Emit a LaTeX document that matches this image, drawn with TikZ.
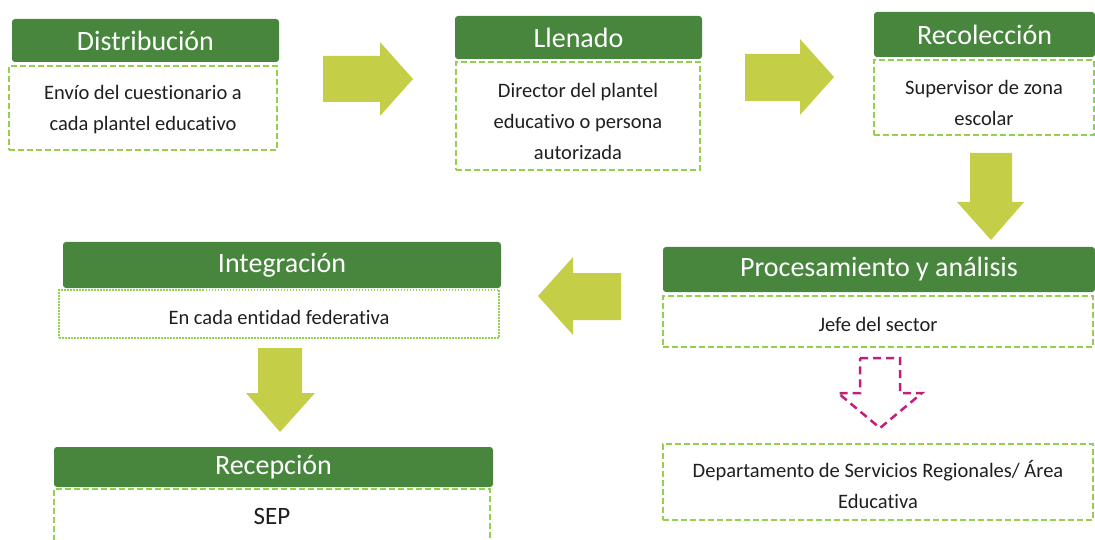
\documentclass[tikz,border=0pt]{standalone}
\usepackage{fontspec}
\setmainfont{Carlito}[Ligatures={NoCommon,NoRare}]
\usepackage{tikz}
\definecolor{hdrgreen}{RGB}{72,134,62}
\definecolor{arrowlime}{RGB}{196,206,70}
\definecolor{dashgreen}{RGB}{146,208,80}
\definecolor{pinkarrow}{RGB}{192,32,124}
\newcommand{\lift}[1]{\rule{0pt}{#1}}

\begin{document}
\begin{tikzpicture}[x=1pt, y=-1pt,
    every node/.style={inner sep=0pt, outer sep=0pt, align=center},
    header/.style={rectangle, rounded corners=3pt, fill=hdrgreen, text=white, font=\fontsize{28}{30}\selectfont},
    bodybox/.style={rectangle, draw=dashgreen, line width=1.5pt, dash pattern=on 6pt off 3pt, fill=white, text=black!88, font=\fontsize{20.5}{31}\selectfont},
    dotbox/.style={bodybox, dash pattern=on 1.5pt off 1.5pt},
    greenarrow/.style={fill=arrowlime},
    pinkdash/.style={draw=pinkarrow, line width=2.5pt, dash pattern=on 8pt off 5pt}]
    \useasboundingbox (0,0) rectangle (1095,540);
    \clip (0,0) rectangle (1095,540);
    % Top row
    \node[header, minimum width=267pt, minimum height=43pt] (hdist) at (145.5,40.5) {Distribución};
    \node[bodybox, minimum width=268pt, minimum height=84pt] (bdist) at (143,108) {\lift{17pt}Envío del cuestionario a\\cada plantel educativo};
    \node[header, minimum width=247pt, minimum height=43pt] (hllen) at (578.5,37.5) {Llenado};
    \node[bodybox, minimum width=244pt, minimum height=108pt] (bllen) at (578,116) {\lift{25pt}Director del plantel\\educativo o persona\\autorizada};
    \node[header, minimum width=221pt, minimum height=45pt] (hreco) at (984.5,34.5) {Recolección};
    \node[bodybox, minimum width=220pt, minimum height=75pt] (breco) at (984,97.5) {\lift{25pt}Supervisor de zona\\escolar};
    % Middle row
    \node[header, minimum width=432pt, minimum height=45pt] (hproc) at (879,269.5) {Procesamiento y análisis};
    \node[bodybox, minimum width=430pt, minimum height=51pt] (bproc) at (878,321.5) {\lift{20pt}Jefe del sector};
    \node[header, minimum width=438pt, minimum height=46pt] (hinte) at (282,265) {Integración};
    \node[dotbox, minimum width=440pt, minimum height=48pt] (binte) at (279,314) {\lift{22pt}En cada entidad federativa};
    % Bottom row
    \node[header, minimum width=439pt, minimum height=40pt] (hrece) at (273.5,467) {Recepción};
    \node[bodybox, minimum width=436pt, minimum height=54pt, font=\fontsize{25}{30}\selectfont] (brece) at (272,516) {SEP};
    \node[bodybox, minimum width=430pt, minimum height=76pt] (bdept) at (878,482) {\lift{22pt}Departamento de Servicios Regionales/ Área\\Educativa};
    % Block arrows
    \fill[greenarrow] (323,56) -- (380,56) -- (380,42) -- (413,79) -- (380,116) -- (380,102) -- (323,102) -- cycle;
    \fill[greenarrow] (745,54) -- (800,54) -- (800,39) -- (834,77) -- (800,115) -- (800,101) -- (745,101) -- cycle;
    \fill[greenarrow] (970,153) -- (1012,153) -- (1012,202) -- (1024,202) -- (991,240) -- (957,202) -- (970,202) -- cycle;
    \fill[greenarrow] (621,273) -- (573,273) -- (573,257) -- (538,296) -- (573,335) -- (573,320) -- (621,320) -- cycle;
    \fill[greenarrow] (258,348) -- (302,348) -- (302,393) -- (315,393) -- (280,432) -- (246,393) -- (258,393) -- cycle;
    \draw[pinkdash] (860,358) -- (900,358) -- (900,393) -- (922,393) -- (880,428) -- (838,393) -- (860,393) -- cycle;
\end{tikzpicture}
\end{document}
